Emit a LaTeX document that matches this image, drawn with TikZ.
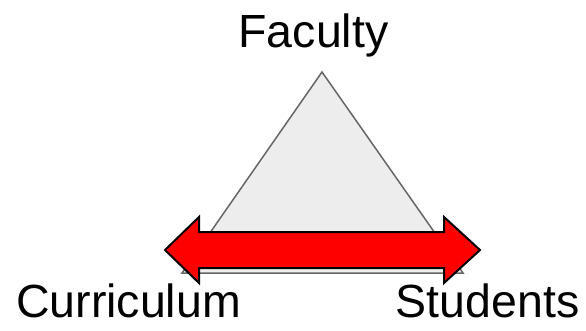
\documentclass[tikz,border=0pt]{standalone}
\usepackage{fontspec}
\setmainfont{Liberation Sans}
\begin{document}
\begin{tikzpicture}[x=1pt,y=-1pt,
  lbl/.style={anchor=base,inner sep=0pt,font=\fontsize{46.5}{50}\selectfont},
  tri/.style={draw=black!60,fill=black!7,line width=1.5pt,line join=miter},
  dbl/.style={draw=black,fill=red,line width=2pt,line join=miter}]
\useasboundingbox (0,0) rectangle (586,330);
\coordinate (apex) at (322,72);
\coordinate (bl) at (182,273);
\coordinate (br) at (463,273);
\draw[tri] (apex) -- (br) -- (bl) -- cycle;
\draw[dbl] (165,250) -- (199,217) -- (199,232) -- (444,232) -- (444,217) -- (480,250)
  -- (444,283) -- (444,268) -- (199,268) -- (199,283) -- cycle;
\node[lbl] (fac) at (313.5,47) {Faculty};
\node[lbl] (cur) at (128.5,317) {Curriculum};
\node[lbl] (stu) at (487.5,317) {Students};
\end{tikzpicture}
\end{document}
